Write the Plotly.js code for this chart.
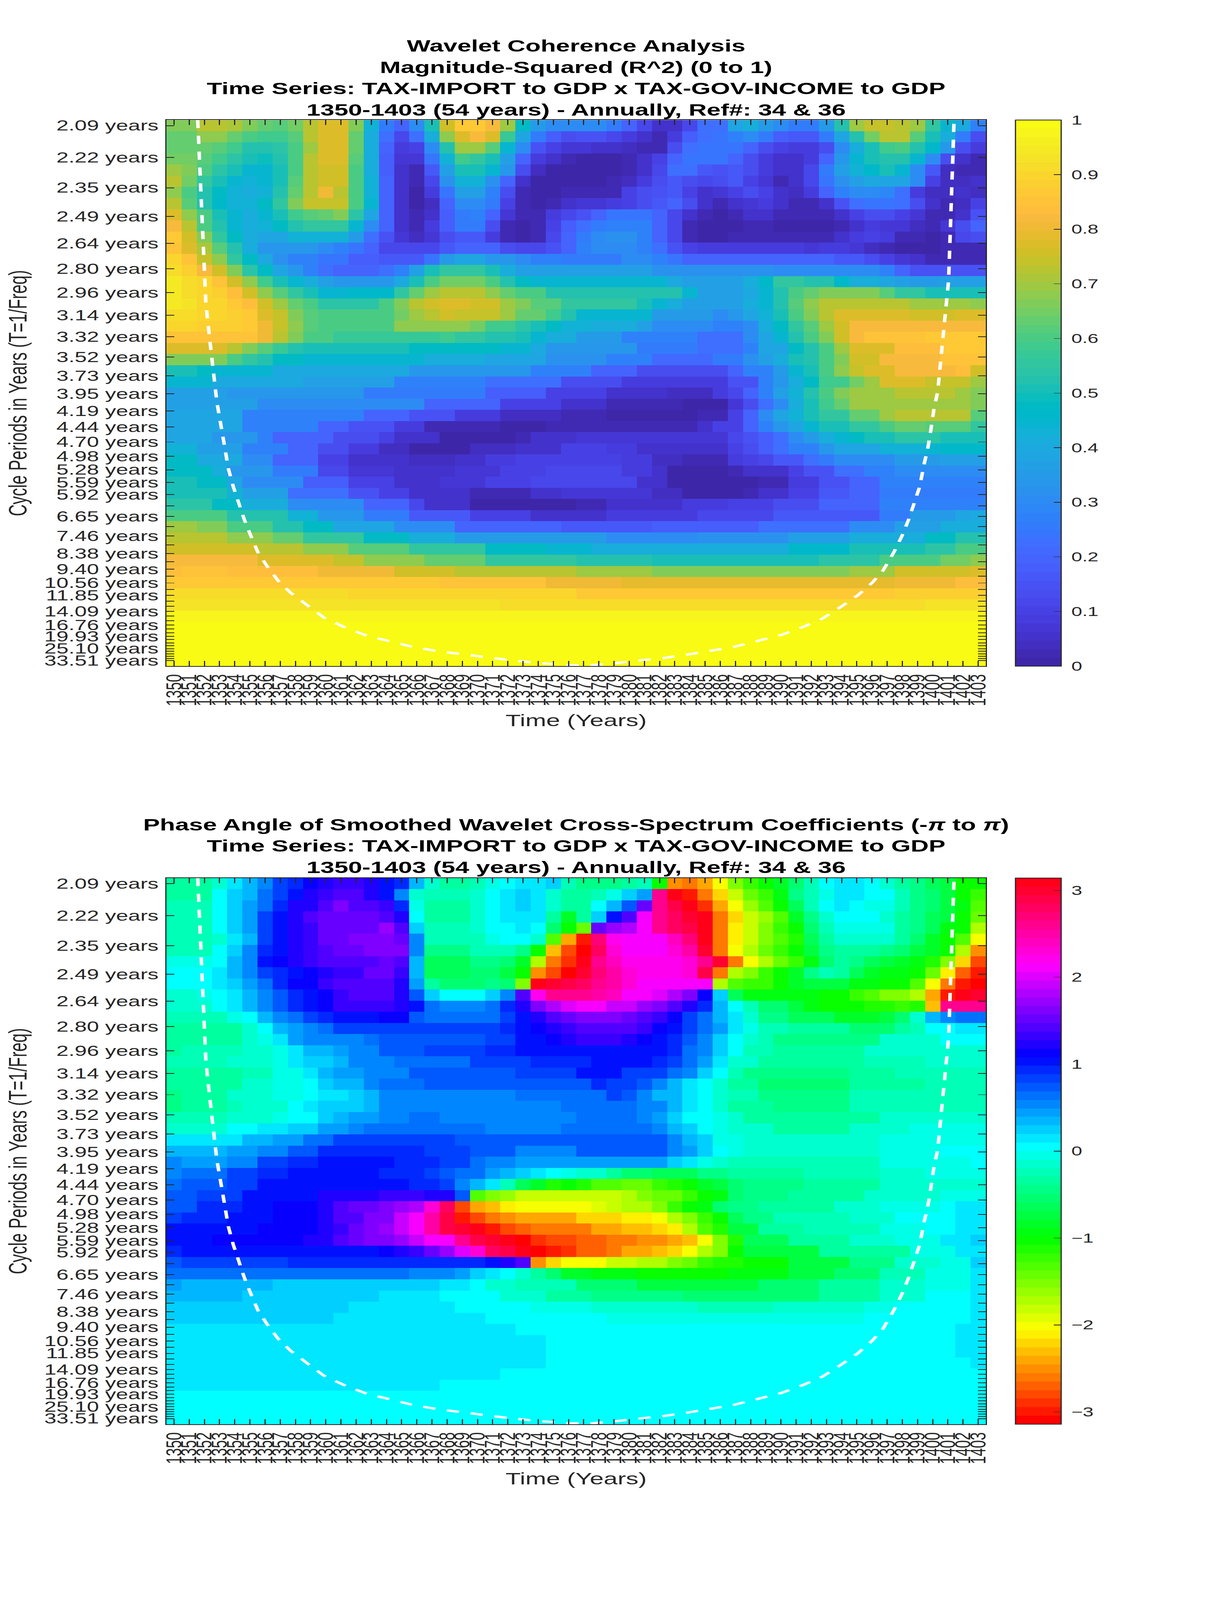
<!DOCTYPE html>
<html><head><meta charset="utf-8">
<script src="https://cdn.plot.ly/plotly-3.0.1.min.js"></script>
<style>html,body{margin:0;padding:0;background:#fff;overflow:hidden}#fit{width:3125px;height:6252px;transform-origin:0 0}#a,#b{width:3125px;height:3126px}</style>
</head><body><div id="fit"><div id="a"></div><div id="b"></div></div>
<script>
const cyclePeriods=[2.095,2.219,2.351,2.491,2.639,2.796,2.962,3.138,3.325,3.523,3.732,3.954,4.189,4.438,4.702,4.982,5.278,5.592,5.924,6.276,6.649,7.045,7.464,7.908,8.378,8.876,9.404,9.963,10.556,11.183,11.848,12.553,13.300,14.090,14.928,15.816,16.756,17.753,18.809,19.927,21.112,22.368,23.698,25.107,26.600,28.182,29.857,31.632,33.512];
const periodLabels=["2.09","2.22","2.35","2.49","2.64","2.80","2.96","3.14","3.32","3.52","3.73","3.95","4.19","4.44","4.70","4.98","5.28","5.59","5.92","","6.65","","7.46","","8.38","","9.40","","10.56","","11.85","","","14.09","","","16.76","","","19.93","","","","25.10","","","","","33.51"];
const coiYear=[1351.56,1351.67,1351.81,1351.96,1352.10,1352.35,1352.57,1352.82,1353.26,1353.58,1353.91,1354.27,1354.63,1355.06,1355.53,1356.15,1356.87,1357.70,1358.78,1359.87,1361.31,1362.76,1364.20,1365.83,1367.46,1369.08,1370.89,1372.33,1374.14,1375.94,1377.39,1378.83,1380.64,1382.27,1383.89,1385.34,1386.78,1388.41,1390.03,1391.48,1392.74,1394.01,1395.09,1396.0,1396.72,1397.44,1397.98,1398.42,1398.78,1399.14,1399.43,1399.68,1399.86,1400.08,1400.33,1400.58,1400.76,1400.91,1401.05,1401.13,1401.23,1401.34,1401.41];
const coiFreq=[.4821,.4513,.3988,.3660,.3284,.2988,.2710,.2464,.2143,.1905,.1751,.1614,.1479,.1342,.1204,.1085,.0965,.0864,.0761,.0658,.0573,.0504,.0461,.0410,.0376,.0350,.0320,.0299,.0277,.0260,.0258,.0273,.0299,.0320,.0350,.0380,.0410,.0461,.0513,.0581,.0650,.0753,.0847,.0948,.1050,.1204,.1342,.1479,.1614,.1751,.1939,.2076,.2211,.2400,.2547,.2875,.3120,.3284,.3481,.3776,.4185,.4513,.4821];
const coherence=[
[.66,.66,.72,.72,.71,.66,.63,.62,.65,.72, .77,.77,.66,.43,.25,.2,.3,.5,.75,.87, .87,.82,.7,.47,.35,.3,.3,.3,.3,.25, .2,.12,.05,.05,.12,.22,.22,.38,.42,.35, .3,.25,.25,.35,.52,.7,.74,.74,.73,.7, .55,.45,.4,.27],
[.63,.63,.68,.68,.63,.6,.58,.58,.62,.72, .78,.78,.64,.42,.22,.12,.22,.42,.68,.77, .82,.78,.57,.38,.25,.18,.14,.15,.15,.12, .08,.06,.03,.08,.18,.22,.24,.27,.3,.26, .18,.16,.16,.25,.38,.53,.65,.72,.72,.62, .5,.42,.25,.13],
[.63,.63,.64,.62,.58,.53,.52,.54,.6,.7, .78,.78,.63,.42,.2,.09,.1,.3,.52,.7, .7,.62,.45,.3,.15,.1,.07,.07,.06,.06, .04,.03,.03,.13,.22,.24,.24,.24,.2,.13, .1,.09,.09,.13,.3,.42,.5,.58,.6,.53, .46,.33,.14,.08],
[.65,.65,.62,.58,.54,.5,.49,.52,.6,.72, .78,.78,.62,.42,.18,.07,.07,.24,.43,.58, .56,.5,.36,.2,.09,.05,.02,.01,.01,.01, .03,.05,.1,.2,.24,.24,.24,.2,.14,.08, .06,.06,.09,.2,.33,.44,.51,.53,.53,.45, .3,.14,.06,.02],
[.7,.66,.6,.54,.5,.44,.44,.5,.6,.72, .76,.76,.6,.42,.18,.05,.03,.17,.36,.5, .5,.44,.33,.13,.04,.01,.01,.01,.01,.01, .03,.06,.12,.22,.23,.17,.15,.17,.14,.08, .05,.06,.12,.25,.36,.43,.46,.5,.44,.3, .17,.04,.02,.02],
[.72,.65,.56,.5,.45,.43,.45,.5,.62,.72, .75,.75,.6,.43,.2,.05,.02,.12,.32,.43, .43,.32,.2,.05,.01,.01,.01,.01,.01,.02, .04,.08,.14,.17,.13,.12,.14,.17,.1,.07, .03,.05,.12,.24,.32,.37,.4,.39,.39,.3, .1,.04,.04,.05],
[.68,.6,.52,.47,.43,.42,.43,.52,.63,.73, .8,.73,.6,.43,.2,.06,.01,.08,.24,.36, .36,.28,.14,.02,.01,.01,.03,.03,.03,.03, .1,.13,.15,.17,.1,.06,.07,.1,.13,.1, .05,.04,.09,.2,.27,.3,.3,.29,.22,.09, .04,.04,.06,.04],
[.72,.62,.53,.46,.43,.43,.48,.55,.66,.74, .74,.74,.6,.45,.2,.06,.0,.04,.2,.3, .31,.25,.1,.03,.0,.03,.05,.07,.07,.08, .1,.13,.17,.2,.13,.05,.03,.05,.07,.09, .06,.03,.03,.05,.15,.22,.24,.24,.22,.14, .06,.03,.04,.1],
[.78,.68,.6,.5,.44,.42,.45,.5,.58,.62, .64,.66,.54,.38,.2,.06,.02,.05,.18,.26, .27,.2,.07,.02,.02,.08,.12,.15,.2,.24, .24,.24,.2,.12,.05,.02,.01,.02,.05,.06, .03,.02,.02,.02,.05,.1,.13,.14,.1,.07, .03,.02,.05,.15],
[.82,.73,.6,.53,.45,.42,.43,.47,.52,.55, .55,.55,.45,.3,.2,.05,.02,.08,.18,.25, .25,.14,.03,.0,.02,.1,.18,.23,.25,.28, .28,.28,.2,.12,.03,.01,.0,.01,.03,.03, .01,.01,.01,.01,.02,.06,.08,.07,.07,.04, .02,.07,.14,.2],
[.86,.76,.66,.55,.47,.42,.38,.38,.43,.43, .43,.43,.35,.23,.15,.07,.04,.07,.14,.16, .16,.09,.03,.01,.02,.12,.2,.25,.3,.32, .32,.27,.2,.12,.03,.01,.01,.02,.03,.03, .02,.02,.02,.03,.05,.09,.1,.09,.03,.02, .01,.03,.11,.13],
[.85,.78,.71,.62,.52,.42,.33,.33,.33,.33, .31,.27,.24,.2,.12,.12,.12,.12,.16,.2, .2,.2,.13,.11,.11,.15,.2,.27,.3,.3, .3,.28,.22,.15,.1,.08,.08,.08,.08,.08, .08,.08,.07,.08,.08,.07,.04,.02,.01,.01, .01,.02,.03,.03],
[.9,.85,.74,.68,.56,.47,.4,.32,.27,.27, .24,.24,.18,.18,.16,.16,.16,.24,.35,.38, .38,.33,.33,.3,.27,.27,.25,.25,.25,.25, .3,.3,.28,.24,.2,.2,.2,.2,.2,.2, .2,.2,.2,.2,.17,.17,.13,.1,.07,.05, .02,.02,.02,.02],
[.92,.88,.82,.75,.67,.54,.48,.38,.33,.27, .22,.2,.2,.2,.23,.28,.36,.5,.55,.55, .55,.5,.42,.36,.36,.36,.36,.36,.36,.36, .36,.36,.32,.32,.32,.32,.32,.32,.32,.32, .3,.3,.3,.3,.3,.3,.3,.27,.2,.15, .15,.15,.15,.15],
[.95,.92,.9,.85,.76,.68,.58,.5,.45,.41, .36,.33,.33,.33,.33,.4,.5,.6,.65,.65, .65,.6,.53,.47,.45,.45,.45,.45,.45,.45, .45,.45,.45,.4,.37,.37,.37,.37,.42,.46, .55,.55,.53,.52,.46,.42,.41,.38,.37,.35, .35,.37,.37,.37],
[.94,.92,.9,.88,.84,.76,.68,.62,.55,.5, .45,.45,.46,.46,.46,.55,.63,.69,.72,.72, .72,.68,.63,.6,.6,.52,.52,.52,.52,.52, .52,.52,.52,.52,.44,.36,.36,.36,.4,.45, .52,.6,.63,.66,.66,.66,.66,.62,.55,.55, .5,.5,.5,.5],
[.94,.93,.9,.9,.86,.83,.76,.7,.63,.6, .54,.54,.54,.54,.6,.66,.72,.76,.78,.78, .75,.75,.7,.66,.62,.62,.56,.56,.56,.56, .56,.5,.45,.42,.37,.37,.37,.37,.42,.45, .53,.62,.68,.73,.73,.73,.73,.73,.73,.7, .7,.7,.7,.68],
[.92,.92,.9,.9,.89,.86,.78,.74,.66,.62, .6,.6,.6,.6,.6,.65,.7,.72,.76,.74, .74,.74,.7,.64,.64,.58,.52,.44,.44,.44, .44,.44,.35,.35,.35,.35,.3,.33,.38,.43, .5,.6,.66,.72,.77,.77,.77,.77,.77,.76, .76,.76,.78,.78],
[.9,.9,.89,.89,.88,.86,.8,.74,.68,.62, .6,.6,.6,.6,.6,.68,.68,.68,.68,.68, .65,.58,.58,.54,.5,.48,.43,.43,.42,.42, .42,.36,.3,.3,.3,.3,.27,.27,.3,.42, .47,.55,.62,.7,.76,.82,.82,.82,.82,.82, .82,.82,.82,.82],
[.85,.85,.85,.85,.85,.85,.8,.72,.66,.6, .6,.57,.57,.57,.57,.57,.57,.57,.58,.56, .56,.53,.53,.5,.45,.42,.42,.35,.35,.35, .28,.28,.28,.28,.28,.22,.22,.22,.3,.38, .45,.52,.6,.67,.75,.82,.85,.85,.85,.85, .86,.86,.86,.86],
[.78,.78,.78,.77,.72,.66,.62,.57,.53,.5, .5,.5,.5,.5,.5,.5,.48,.48,.48,.48, .48,.48,.45,.44,.4,.33,.33,.33,.33,.33, .33,.25,.25,.25,.25,.22,.22,.22,.28,.38, .38,.47,.53,.6,.7,.78,.78,.78,.84,.84, .84,.86,.86,.86],
[.66,.66,.66,.66,.6,.55,.52,.48,.48,.44, .44,.44,.44,.44,.44,.44,.44,.42,.42,.42, .42,.38,.38,.38,.38,.32,.32,.32,.32,.27, .27,.27,.21,.21,.21,.21,.25,.25,.32,.36, .42,.5,.53,.6,.66,.76,.76,.82,.82,.82, .82,.85,.85,.85],
[.5,.5,.47,.44,.44,.44,.44,.4,.4,.4, .4,.4,.4,.4,.4,.4,.33,.33,.33,.33, .33,.33,.33,.33,.28,.28,.28,.28,.19,.19, .19,.13,.13,.13,.13,.14,.14,.2,.28,.28, .35,.45,.5,.6,.68,.74,.78,.78,.82,.82, .82,.82,.84,.75],
[.44,.44,.44,.4,.4,.4,.4,.4,.4,.36, .36,.36,.36,.36,.36,.28,.28,.28,.28,.28, .28,.22,.22,.22,.22,.22,.14,.14,.14,.14, .08,.08,.08,.08,.08,.08,.08,.15,.15,.27, .33,.42,.47,.58,.58,.65,.7,.77,.77,.77, .74,.74,.74,.7],
[.37,.37,.37,.37,.33,.33,.33,.33,.33,.33, .33,.33,.33,.26,.26,.26,.26,.26,.26,.26, .26,.18,.18,.18,.18,.1,.1,.1,.1,.05, .05,.05,.05,.04,.04,.04,.08,.12,.2,.27, .36,.43,.52,.6,.66,.7,.7,.7,.72,.72, .72,.72,.7,.66],
[.36,.36,.36,.36,.36,.36,.3,.3,.3,.3, .3,.3,.3,.3,.3,.3,.3,.2,.2,.2, .2,.2,.1,.1,.1,.1,.05,.05,.05,.02, .02,.02,.02,.02,.01,.01,.01,.07,.13,.22, .3,.42,.5,.58,.63,.69,.69,.69,.69,.69, .69,.69,.69,.66],
[.38,.38,.38,.38,.38,.28,.28,.28,.28,.28, .28,.28,.28,.2,.2,.2,.15,.15,.15,.08, .08,.08,.04,.04,.04,.04,.02,.02,.02,.01, .01,.01,.01,.01,.01,.03,.03,.1,.2,.3, .38,.43,.5,.55,.55,.63,.63,.7,.72,.72, .72,.72,.72,.62],
[.38,.38,.38,.38,.38,.27,.27,.27,.27,.27, .2,.2,.15,.15,.15,.09,.09,.03,.03,.03, .03,.03,.0,.0,.0,.03,.03,.03,.03,.03, .03,.03,.03,.03,.03,.05,.1,.1,.2,.27, .33,.38,.45,.5,.5,.55,.55,.6,.63,.63, .62,.62,.62,.56],
[.38,.38,.38,.33,.33,.33,.27,.2,.2,.2, .2,.13,.13,.13,.1,.05,.05,.05,.01,.01, .01,.01,.01,.03,.05,.05,.05,.07,.07,.07, .07,.07,.07,.07,.07,.07,.07,.12,.15,.18, .22,.3,.35,.42,.45,.48,.5,.5,.54,.54, .54,.5,.5,.5],
[.43,.43,.37,.37,.37,.28,.28,.28,.2,.2, .13,.13,.08,.08,.04,.04,.01,.01,.01,.01, .04,.04,.04,.06,.06,.06,.1,.1,.1,.08, .08,.05,.05,.06,.06,.06,.06,.1,.13,.18, .22,.28,.28,.33,.38,.38,.38,.43,.43,.43, .44,.46,.46,.46],
[.47,.47,.4,.4,.4,.3,.3,.2,.2,.2, .1,.1,.05,.05,.05,.05,.04,.04,.04,.06, .06,.08,.08,.1,.1,.1,.1,.1,.1,.1, .08,.08,.04,.04,.03,.03,.03,.08,.1,.12, .17,.17,.22,.25,.3,.3,.3,.3,.35,.35, .35,.37,.37,.37],
[.47,.47,.47,.42,.33,.33,.33,.25,.25,.25, .12,.12,.07,.07,.07,.05,.05,.05,.05,.07, .07,.07,.1,.1,.1,.12,.12,.12,.12,.12, .08,.08,.05,.01,.01,.01,.01,.03,.05,.05, .05,.1,.15,.15,.22,.22,.28,.28,.3,.3, .3,.3,.3,.3],
[.5,.5,.47,.47,.38,.3,.3,.3,.3,.18, .18,.18,.1,.1,.1,.06,.06,.06,.07,.07, .07,.1,.1,.1,.11,.11,.11,.11,.11,.11, .11,.05,.05,.0,.0,.0,.0,.0,.01,.03, .03,.08,.08,.15,.15,.2,.2,.27,.27,.27, .27,.27,.27,.27],
[.5,.5,.5,.5,.43,.36,.36,.36,.22,.22, .22,.22,.15,.15,.1,.1,.05,.05,.05,.05, .03,.03,.03,.03,.05,.05,.07,.07,.07,.07, .07,.07,.04,.04,.01,.01,.01,.01,.03,.05, .05,.1,.1,.16,.16,.2,.2,.26,.26,.26, .26,.26,.26,.26],
[.54,.54,.54,.47,.47,.42,.42,.42,.3,.3, .3,.3,.3,.2,.2,.2,.12,.05,.05,.05, .01,.01,.01,.01,.01,.01,.01,.03,.03,.05, .05,.05,.05,.05,.08,.08,.08,.1,.1,.1, .13,.13,.13,.2,.2,.2,.2,.28,.28,.28, .28,.28,.28,.28],
[.6,.6,.6,.6,.53,.53,.53,.53,.43,.43, .33,.33,.33,.25,.25,.25,.17,.17,.17,.17, .1,.1,.1,.1,.05,.05,.05,.05,.05,.08, .08,.08,.08,.08,.08,.12,.12,.12,.12,.12, .17,.17,.17,.17,.17,.17,.17,.25,.25,.35, .35,.35,.38,.4],
[.7,.7,.66,.66,.6,.6,.6,.53,.53,.48, .48,.38,.38,.38,.38,.3,.3,.3,.3,.2, .2,.2,.2,.2,.2,.2,.17,.17,.17,.17, .17,.17,.18,.18,.18,.18,.18,.18,.18,.22, .22,.22,.22,.22,.22,.3,.3,.3,.36,.36, .36,.42,.42,.42],
[.73,.73,.73,.73,.68,.68,.68,.64,.64,.55, .55,.55,.55,.47,.47,.47,.42,.42,.42,.35, .35,.35,.35,.35,.35,.35,.35,.35,.35,.3, .3,.3,.3,.3,.3,.32,.32,.32,.32,.32, .32,.36,.36,.36,.36,.42,.42,.42,.42,.42, .47,.47,.52,.52],
[.76,.76,.76,.76,.76,.76,.72,.72,.72,.68, .68,.68,.62,.62,.62,.62,.55,.55,.55,.55, .55,.48,.48,.48,.48,.44,.44,.44,.41,.41, .41,.41,.41,.41,.41,.41,.42,.42,.42,.42, .42,.46,.46,.46,.46,.5,.5,.5,.5,.5, .54,.54,.6,.6],
[.82,.82,.82,.82,.82,.82,.78,.78,.78,.78, .78,.74,.74,.68,.68,.68,.68,.64,.64,.64, .64,.56,.56,.56,.56,.56,.56,.52,.52,.52, .52,.52,.51,.51,.51,.51,.51,.51,.51,.51, .51,.51,.51,.54,.54,.54,.54,.6,.6,.6, .6,.65,.65,.68],
[.83,.85,.85,.85,.83,.83,.83,.83,.83,.83, .8,.8,.8,.8,.8,.76,.76,.76,.76,.73, .73,.73,.73,.73,.73,.73,.73,.7,.7,.7, .7,.7,.66,.66,.66,.66,.66,.66,.66,.66, .66,.66,.66,.66,.66,.7,.7,.7,.75,.75, .75,.76,.76,.78],
[.87,.87,.87,.87,.87,.87,.87,.87,.87,.87, .87,.87,.87,.87,.87,.87,.87,.87,.845,.845, .845,.845,.845,.845,.845,.81,.81,.81,.81,.81, .79,.79,.79,.79,.79,.79,.79,.79,.79,.79, .79,.79,.79,.79,.79,.79,.79,.79,.81,.81, .81,.81,.84,.84],
[.91,.91,.91,.91,.91,.91,.91,.91,.91,.91, .91,.91,.895,.895,.895,.895,.895,.895,.895,.895, .895,.895,.895,.895,.895,.895,.895,.87,.87,.87, .87,.87,.87,.87,.87,.87,.87,.87,.87,.87, .87,.87,.87,.87,.87,.87,.87,.87,.88,.88, .88,.88,.88,.88],
[.935,.935,.935,.935,.935,.935,.935,.935,.935,.935, .935,.935,.935,.935,.935,.935,.935,.935,.935,.935, .935,.935,.92,.92,.92,.92,.92,.92,.92,.92, .92,.92,.92,.92,.92,.92,.92,.92,.92,.92, .92,.92,.92,.92,.92,.92,.92,.92,.92,.92, .935,.935,.935,.935],
[.975,.975,.975,.975,.975,.975,.975,.975,.975,.975, .975,.975,.975,.975,.975,.975,.975,.975,.975,.975, .975,.975,.975,.975,.975,.975,.975,.975,.975,.975, .975,.975,.975,.975,.975,.975,.975,.975,.975,.975, .975,.975,.975,.975,.975,.975,.975,.975,.975,.975, .975,.975,.975,.975],
[.99,.99,.99,.99,.99,.99,.99,.99,.99,.99, .99,.99,.99,.99,.99,.99,.99,.99,.99,.99, .99,.99,.99,.99,.99,.99,.99,.99,.99,.99, .99,.99,.99,.99,.99,.99,.99,.99,.99,.99, .99,.99,.99,.99,.99,.99,.99,.99,.99,.99, .99,.99,.99,.99],
[1,1,1,1,1,1,1,1,1,1, 1,1,1,1,1,1,1,1,1,1, 1,1,1,1,1,1,1,1,1,1, 1,1,1,1,1,1,1,1,1,1, 1,1,1,1,1,1,1,1,1,1, 1,1,1,1],
[1,1,1,1,1,1,1,1,1,1, 1,1,1,1,1,1,1,1,1,1, 1,1,1,1,1,1,1,1,1,1, 1,1,1,1,1,1,1,1,1,1, 1,1,1,1,1,1,1,1,1,1, 1,1,1,1],
[1,1,1,1,1,1,1,1,1,1, 1,1,1,1,1,1,1,1,1,1, 1,1,1,1,1,1,1,1,1,1, 1,1,1,1,1,1,1,1,1,1, 1,1,1,1,1,1,1,1,1,1, 1,1,1,1]
];
const phaseAngle=[
[-.35,-.35,-.35,-.15,.14,.35,.55,.8,.98,1.1, 1.2,1.3,1.35,1.25,1.05,.9,.3,-.15,-.3,-.3, -.2,-.05,.08,.1,.12,.2,-.2,-.4,-.4,-.4, -.3,-.2,-1.05,-2.5,-2.6,-2.4,-2.0,-1.5,-1.25,-1.05, -.8,-.5,-.25,.05,.12,.12,.05,-.1,-.3,-.45, -.65,-.7,-1.0,-1.0],
[-.3,-.3,-.3,.05,.2,.35,.65,.85,1.05,1.25, 1.35,1.42,1.42,1.25,1.05,.55,-.12,-.2,-.2,-.2, -.12,.05,.12,.2,.15,-.1,-.3,-.3,-.25,-.05, .2,.4,2.6,3.1,-2.95,-2.65,-2.25,-1.85,-1.45,-1.2, -.9,-.45,-.2,-.05,.1,.1,.05,.02,-.2,-.4, -.55,-.7,-1,-1.2],
[-.25,-.25,-.25,.02,.25,.42,.68,.9,1.2,1.25, 1.4,1.6,1.45,1.42,1.3,.9,-.05,-.3,-.3,-.3, -.1,.02,.12,.22,.12,-.1,-.35,-.3,.02,.3, .7,1.5,2.6,2.85,3.05,-2.9,-2.45,-2.0,-1.65,-1.35, -1.05,-.6,-.2,.05,.15,.05,-.03,-.05,-.25,-.4, -.5,-.75,-.95,-1.3],
[-.25,-.25,-.25,.02,.25,.4,.85,1.05,1.2,1.4, 1.55,1.55,1.55,1.55,1.4,1.2,.02,-.3,-.3,-.3, -.12,.05,.12,.12,.1,-.35,-.8,-.3,.25,1.0, 1.45,2.1,2.6,2.75,3.0,3.14,-2.65,-2.2,-1.8,-1.6, -1.3,-.85,-.4,-.1,.05,.05,.05,-.1,-.3,-.45, -.6,-.75,-1.05,-1.45],
[-.25,-.25,-.25,.02,.25,.42,.85,1.05,1.2,1.35, 1.5,1.5,1.5,1.5,1.7,1.45,.2,-.25,-.25,-.25, -.1,.03,.03,.15,.03,-.5,-1.05,-1.4,1.55,1.7, 1.85,2.1,2.6,2.8,2.9,3.1,-2.6,-2.1,-1.8,-1.55, -1.25,-1.0,-.5,-.2,-.05,-.05,-.05,-.05,-.3,-.45, -.65,-.95,-1.05,-1.75],
[-.25,-.25,-.25,-.1,.1,.35,.85,1.05,1.2,1.35, 1.5,1.5,1.6,1.6,1.6,1.55,.5,-.25,-.25,-.25, -.2,-.05,.03,.03,-.12,-1.3,-2.4,-3.0,2.7,2.25, 2.15,2.15,2.15,2.45,2.7,3.05,-2.6,-2.1,-1.8,-1.5, -1.35,-1.1,-.65,-.3,-.1,-.1,-.1,-.1,-.3,-.5, -.8,-1.05,-1.3,-2.05],
[-.25,-.25,-.25,.02,.2,.5,.95,1.05,1.2,1.35, 1.45,1.5,1.5,1.6,1.6,1.6,.55,-.4,-.4,-.4, -.25,-.25,-.25,-.4,-1.05,-2.35,-2.75,-3.1,2.75,2.3, 2.1,2.1,2.1,2.35,2.5,3.0,-2.6,-2.0,-1.7,-1.45, -1.2,-1.0,-.75,-.4,-.3,-.3,-.3,-.4,-.5,-.7, -.85,-1.05,-1.7,-2.5],
[-.05,-.05,-.05,.05,.3,.55,1.0,1.15,1.25,1.3, 1.4,1.45,1.45,1.45,1.5,1.4,.35,-.6,-.6,-.6, -.45,-.45,-.55,-.85,-1.75,-2.6,-2.85,3.1,2.65,2.4, 2.2,2.2,2.2,2.2,2.35,2.65,3.0,-2.65,-2.05,-1.75, -1.4,-1.2,-.9,-.5,-.3,-.45,-.6,-.7,-.85,-.9, -1.1,-1.55,-2.25,-2.75],
[.05,.05,.05,.1,.35,.55,.8,.95,1.05,1.15, 1.25,1.35,1.35,1.5,1.5,1.3,.3,-.65,-.65,-.65, -.5,-.5,-.7,-1.05,-2.55,-2.8,-3.1,2.95,2.7,2.55, 2.35,2.2,2.2,2.2,2.35,2.85,-2.6,-1.75,-1.5,-1.25, -1.05,-.85,-.45,-.2,-.3,-.65,-.8,-.9,-.95,-1.0, -1.4,-2.1,-2.7,-3.0],
[.05,.05,.05,.12,.25,.45,.65,.95,1.1,1.15, 1.3,1.4,1.4,1.4,1.4,1.2,.45,-.3,-.5,-.5, -.5,-.4,-.5,-1.5,3.14,2.95,2.85,2.75,2.65,2.55, 2.3,2.1,2.1,2.1,2.1,2.1,-1.75,-1.3,-1.25,-1.25, -1.05,-.85,-.75,-.75,-.75,-.9,-.9,-1.05,-1.05,-1.3, -2.0,-2.65,-2.95,-3.1],
[-.1,-.1,-.05,.05,.1,.35,.5,.7,.9,1.05, 1.15,1.3,1.45,1.45,1.45,1.25,.7,.2,.05,.05, .05,.2,.5,1.45,2.2,2.65,2.65,2.6,2.5,2.4, 2.15,2.15,2.05,1.85,1.65,1.1,.2,-.6,-.9,-.9, -.9,-.9,-.9,-1.05,-1.05,-1.2,-1.3,-1.5,-1.55,-1.75, -2.45,-3.0,3.1,3.0],
[-.15,-.15,-.15,.05,.15,.35,.5,.7,.9,1.05, 1.15,1.3,1.3,1.3,1.3,1.2,1.05,.6,.5,.5, .5,.6,.9,1.2,1.6,1.8,2.0,2.15,2.15,1.95, 1.95,1.75,1.65,1.45,1.2,.9,.3,.05,-.25,-.5, -.5,-.75,-.9,-1.05,-1.05,-1.05,-1.1,-1.1,-1.2,-1.15, -2.3,2.65,2.65,2.65],
[-.2,-.2,-.2,-.2,-.05,.05,.3,.55,.65,.85, .95,1.05,1.05,1.05,1.1,1.1,.75,.65,.65,.65, .65,.65,.85,1.05,1.25,1.4,1.55,1.65,1.65,1.65, 1.55,1.45,1.3,1.1,.85,.65,.35,.1,-.1,-.4, -.4,-.65,-.65,-.65,-.8,-.8,-.8,-.7,-.5,-.1, .35,.55,.65,.65],
[-.3,-.3,-.3,-.3,-.3,-.1,.05,.3,.45,.55, .65,.8,.85,.85,.85,.85,.85,.85,.85,.85, .85,.85,.95,1.05,1.1,1.2,1.35,1.45,1.45,1.45, 1.45,1.3,1.1,1.05,.85,.65,.4,.15,-.05,-.2, -.2,-.35,-.35,-.35,-.35,-.5,-.5,-.5,-.3,-.2, .05,.05,.15,.15],
[-.3,-.3,-.3,-.3,-.3,-.12,-.03,.1,.4,.5, .5,.5,.5,.65,.75,.75,.75,.75,.75,.75, .75,.85,.85,1.05,1.0,1.15,1.25,1.3,1.3,1.3, 1.2,1.15,1.05,.9,.75,.55,.25,.05,-.1,-.2, -.4,-.4,-.4,-.4,-.4,-.4,-.4,-.15,-.15,-.15, -.15,.05,.05,.05],
[-.35,-.2,-.2,-.2,-.2,-.15,-.15,-.03,.12,.3, .3,.45,.55,.55,.7,.7,.7,.8,.8,.8, .8,.9,.9,1.0,1.05,1.05,1.05,1.05,1.05,1.05, 1.05,1.05,1.0,.9,.65,.55,.25,.05,-.2,-.2, -.3,-.3,-.3,-.3,-.3,-.3,-.15,-.15,-.15,-.15, -.1,-.1,-.1,-.1],
[-.25,-.25,-.25,-.25,-.12,-.12,-.12,-.02,.1,.22, .22,.3,.5,.5,.55,.65,.65,.65,.65,.65, .8,.8,.8,.8,.9,.95,.95,.95,1.05,1.05, 1.05,1.05,.9,.8,.65,.4,.12,-.1,-.15,-.35, -.35,-.35,-.35,-.35,-.35,-.35,-.2,-.2,-.2,-.2, -.12,-.12,-.12,-.12],
[-.3,-.3,-.3,-.3,-.3,-.2,-.2,-.03,-.03,.1, .3,.4,.4,.55,.55,.55,.7,.7,.7,.7, .7,.7,.7,.85,.85,.85,.85,1.0,1.0,1.0, .85,.85,.85,.6,.5,.25,.05,-.2,-.4,-.4, -.4,-.4,-.4,-.4,-.4,-.35,-.35,-.35,-.2,-.2, -.2,-.2,-.2,-.2],
[-.3,-.3,-.3,-.3,-.3,-.15,-.1,-.02,-.02,.05, .2,.35,.35,.5,.6,.6,.6,.7,.7,.7, .7,.7,.7,.7,.7,.75,.75,.75,.95,.85, .85,.7,.55,.35,.15,.05,-.12,-.35,-.35,-.5, -.5,-.5,-.5,-.5,-.5,-.35,-.35,-.35,-.35,-.35, -.2,-.2,-.2,-.2],
[-.4,-.3,-.3,-.3,-.15,-.15,-.15,-.05,-.05,.08, .15,.15,.2,.35,.5,.5,.5,.5,.5,.5, .5,.5,.5,.65,.65,.65,.65,.65,.65,.85, .7,.5,.35,.35,.1,.05,-.1,-.25,-.25,-.45, -.45,-.45,-.45,-.45,-.45,-.25,-.25,-.25,-.25,-.25, -.2,-.2,-.2,-.2],
[-.4,-.3,-.3,-.3,-.2,-.1,-.1,-.1,.05,.12, .2,.2,.2,.3,.5,.5,.5,.5,.5,.5, .5,.5,.5,.5,.5,.5,.6,.6,.6,.6, .6,.5,.5,.3,.15,.05,-.1,-.35,-.35,-.35, -.4,-.4,-.4,-.4,-.4,-.25,-.25,-.25,-.25,-.25, -.2,-.2,-.2,-.2],
[-.25,-.25,-.25,-.25,-.15,-.15,-.15,-.05,.05,.05, .22,.35,.42,.42,.5,.5,.6,.6,.55,.55, .55,.55,.55,.55,.55,.55,.55,.6,.6,.6, .6,.55,.45,.25,.05,.05,-.08,-.15,-.3,-.3, -.3,-.3,-.3,-.3,-.3,-.3,-.3,-.15,-.15,-.15, -.15,-.15,-.15,-.15],
[-.1,-.1,-.1,-.1,.05,.05,.1,.1,.25,.25, .4,.4,.5,.65,.65,.65,.65,.65,.65,.65, .65,.55,.55,.55,.55,.55,.6,.6,.6,.6, .6,.6,.5,.35,.2,.05,-.05,-.12,-.12,-.12, -.3,-.3,-.3,-.3,-.3,-.15,-.15,-.15,-.15,-.05, -.05,-.05,-.05,-.05],
[.15,.15,.15,.15,.15,.3,.3,.45,.45,.6, .6,.8,.8,.8,.8,.8,.8,.8,.8,.7, .7,.7,.7,.7,.7,.7,.7,.7,.7,.7, .7,.7,.7,.55,.3,.2,-.02,-.05,-.12,-.12, -.12,-.12,-.12,-.12,-.12,-.12,-.12,-.08,-.08,-.08, -.08,-.03,-.03,-.03],
[.3,.3,.3,.3,.4,.4,.55,.55,.75,.75, .95,.95,.95,.95,.95,.95,.95,.85,.85,.85, .75,.75,.75,.55,.55,.55,.55,.7,.7,.7, .7,.7,.7,.55,.4,.2,.05,-.05,-.12,-.12, -.12,-.12,-.12,-.12,-.12,-.12,-.12,-.05,-.05,-.05, -.05,.05,.05,.05],
[.55,.45,.45,.45,.55,.55,.8,.8,.9,.9, 1.02,1.02,1.02,1.02,1.02,.92,.92,.92,.8,.8, .62,.55,.5,.4,.4,.4,.4,.4,.4,.4, .4,.4,.4,.2,.12,-.05,-.12,-.2,-.2,-.2, -.2,-.2,-.2,-.2,-.2,-.2,-.2,-.08,-.08,-.08, -.08,-.08,-.08,.05],
[.5,.6,.6,.6,.8,.8,.95,.95,1.0,1.0, 1.0,1.0,1.05,1.05,.95,.95,.95,.85,.75,.6, .6,.45,.38,.25,.15,.05,-.05,-.15,-.15,-.3, -.55,-.55,-.6,-.6,-.6,-.45,-.45,-.35,-.35,-.3, -.3,-.3,-.2,-.2,-.2,-.2,-.2,-.15,-.15,-.15, -.05,-.05,-.05,-.05],
[.62,.7,.7,.7,.85,.85,1.0,1.0,1.05,1.05, 1.05,1.05,1.05,1.05,1.05,1.05,.95,.9,.85,.5, .3,.12,-.25,-.6,-.85,-1.1,-1.05,-1.1,-1.3,-1.3, -1.4,-1.4,-1.2,-1.1,-1.05,-.85,-.7,-.55,-.4,-.4, -.4,-.4,-.3,-.3,-.3,-.3,-.3,-.1,-.1,-.1, -.1,-.1,-.1,-.1],
[.7,.7,.85,.85,.85,1.0,1.0,1.05,1.05,1.05, 1.25,1.25,1.25,1.25,1.3,1.3,1.3,1.2,1.2,.7, -1.3,-1.5,-1.65,-1.8,-1.85,-1.85,-1.85,-1.85,-1.85,-1.85, -1.7,-1.55,-1.4,-1.4,-1.2,-1.0,-.9,-.55,-.4,-.4, -.4,-.3,-.3,-.3,-.3,-.3,-.1,-.1,-.1,-.1, -.1,-.05,-.05,-.05],
[.75,.75,.95,.95,.95,1.05,1.05,1.15,1.15,1.15, 1.25,1.4,1.55,1.55,1.6,1.75,1.85,2.35,2.75,-2.75, -2.45,-2.3,-2.15,-2.05,-2.05,-2.05,-2.0,-2.0,-1.9,-1.85, -1.75,-1.75,-1.5,-1.2,-1.05,-.9,-.55,-.4,-.4,-.3, -.3,-.3,-.3,-.3,-.15,-.15,-.15,-.05,-.05,-.05, -.05,.05,.15,.15],
[.85,.98,.98,.98,1.05,1.05,1.05,1.15,1.15,1.15, 1.25,1.4,1.4,1.65,1.65,1.9,2.15,2.5,2.9,-3.0, -2.8,-2.65,-2.55,-2.4,-2.4,-2.4,-2.4,-2.25,-2.25,-2.25, -2.15,-2.15,-2.0,-1.75,-1.5,-1.25,-1.0,-.6,-.4,-.4, -.25,-.25,-.25,-.25,-.25,-.12,-.12,-.12,.05,.05, .05,.05,.15,.15],
[1.02,1.02,1.02,1.05,1.05,1.05,1.1,1.1,1.15,1.15, 1.25,1.35,1.5,1.6,1.7,1.9,2.15,2.55,2.85,3.0, 3.14,-2.95,-2.75,-2.7,-2.6,-2.6,-2.6,-2.6,-2.45,-2.45, -2.3,-2.3,-2.2,-2.1,-1.75,-1.3,-1.1,-.7,-.7,-.35, -.35,-.35,-.2,-.2,-.2,-.2,-.2,-.05,-.05,-.05, .05,.05,.12,.12],
[1.05,1.05,1.05,1.1,1.1,1.1,1.15,1.15,1.15,1.25, 1.25,1.4,1.55,1.6,1.65,1.75,1.95,2.15,2.15,2.65, 2.85,3.0,3.14,-3.05,-2.9,-2.8,-2.8,-2.7,-2.7,-2.6, -2.6,-2.5,-2.5,-2.4,-2.3,-2.0,-1.5,-1.1,-.6,-.6, -.6,-.3,-.3,-.3,-.3,-.15,-.15,-.15,-.05,-.05, -.05,.12,.18,.22],
[.95,1.02,1.02,1.02,1.0,1.0,1.0,1.0,1.0,1.02, 1.02,1.02,1.05,1.05,1.15,1.25,1.35,1.5,1.75,2.0, 2.3,2.75,2.9,3.1,-3.1,-2.95,-2.85,-2.7,-2.7,-2.6, -2.45,-2.45,-2.35,-2.25,-2.05,-1.75,-1.5,-1.05,-.7,-.7, -.7,-.7,-.7,-.3,-.3,-.3,-.3,-.3,-.3,-.05, -.05,-.05,.12,.18],
[.7,.8,.8,.8,.8,.8,.8,.8,.9,.9, .9,.9,.9,.9,.9,.9,.98,.98,.98,.98, .98,1.05,1.2,1.45,-2.55,-2.25,-2.05,-2.0,-2.0,-1.85, -1.85,-1.7,-1.7,-1.55,-1.4,-1.25,-1.15,-1.15,-1.0,-1.0, -1.0,-.75,-.75,-.75,-.75,-.4,-.4,-.4,-.15,-.15, -.15,-.03,-.03,.2],
[.6,.6,.6,.6,.6,.6,.6,.6,.6,.6, .6,.6,.6,.6,.6,.6,.55,.55,.55,.4, .25,.12,.05,-.15,-.35,-.55,-.8,-.8,-.95,-.95, -.95,-1.0,-1.0,-1.0,-1.0,-1.0,-1.0,-.9,-.9,-.9, -.9,-.7,-.7,-.7,-.5,-.5,-.5,-.25,-.25,-.25, -.03,-.03,-.03,.1],
[.4,.32,.32,.32,.32,.32,.32,.28,.28,.28, .28,.28,.28,.28,.2,.2,.2,.2,.1,.1, .05,-.1,-.1,-.25,-.25,-.25,-.25,-.55,-.55,-.55, -.55,-.75,-.75,-.75,-.75,-.75,-.75,-.75,-.75,-.55, -.55,-.55,-.55,-.35,-.35,-.35,-.35,-.18,-.18,-.18, -.03,-.03,-.03,.15],
[.3,.3,.3,.3,.3,.25,.25,.25,.25,.25, .25,.25,.25,.25,.15,.15,.15,.15,.05,.05, .05,.05,-.12,-.12,-.12,-.3,-.3,-.3,-.4,-.4, -.4,-.4,-.4,-.4,-.55,-.55,-.55,-.55,-.55,-.55, -.55,-.55,-.55,-.35,-.35,-.35,-.35,-.15,-.15,-.15, .05,.05,.05,.15],
[.25,.25,.25,.25,.25,.25,.25,.25,.25,.25, .25,.25,.15,.15,.15,.15,.15,.15,.15,.05, .05,.05,.05,.05,-.05,-.05,-.05,-.05,-.15,-.15, -.15,-.15,-.15,-.15,-.15,-.25,-.25,-.25,-.25,-.25, -.15,-.15,-.15,-.15,-.15,-.15,-.05,-.05,.05,.05, .05,.05,.05,.15],
[.25,.25,.25,.25,.25,.25,.25,.25,.25,.25, .25,.15,.15,.15,.15,.15,.15,.15,.15,.15, .15,.05,.05,.05,.05,.05,.05,.05,.05,-.05, -.05,-.05,-.05,-.05,-.05,-.05,-.05,-.05,-.05,-.05, -.05,-.05,-.05,-.05,-.05,-.05,.05,.05,.05,.05, .05,.05,.05,.15],
[.15,.15,.15,.15,.15,.15,.15,.15,.15,.15, .15,.15,.15,.15,.15,.15,.15,.15,.15,.15, .15,.15,.15,.05,.05,.05,.05,.05,.05,.05, .05,.05,.05,.05,.05,.05,.05,.05,.05,.05, .05,.05,.05,.05,.05,.05,.05,.05,.05,.05, .05,.05,.15,.15],
[.15,.15,.15,.15,.15,.15,.15,.15,.15,.15, .15,.15,.15,.15,.15,.15,.15,.15,.15,.15, .15,.15,.15,.15,.15,.05,.05,.05,.05,.05, .05,.05,.05,.05,.05,.05,.05,.05,.05,.05, .05,.05,.05,.05,.05,.05,.05,.05,.05,.05, .05,.05,.15,.15],
[.15,.15,.15,.15,.15,.15,.15,.15,.15,.15, .15,.15,.15,.15,.15,.15,.15,.15,.15,.15, .15,.15,.15,.15,.15,.05,.05,.05,.05,.05, .05,.05,.05,.05,.05,.05,.05,.05,.05,.05, .05,.05,.05,.05,.05,.05,.05,.05,.05,.05, .05,.05,.15,.15],
[.15,.15,.15,.15,.15,.15,.15,.15,.15,.15, .15,.15,.15,.15,.15,.15,.15,.15,.15,.15, .15,.15,.15,.15,.15,.05,.05,.05,.05,.05, .05,.05,.05,.05,.05,.05,.05,.05,.05,.05, .05,.05,.05,.05,.05,.05,.05,.05,.05,.05, .05,.05,.05,.15],
[.15,.15,.15,.15,.15,.15,.15,.15,.15,.15, .15,.15,.15,.15,.15,.15,.15,.15,.15,.15, .15,.15,.05,.05,.05,.05,.05,.05,.05,.05, .05,.05,.05,.05,.05,.05,.05,.05,.05,.05, .05,.05,.05,.05,.05,.05,.05,.05,.05,.05, .05,.05,.05,.05],
[.15,.15,.15,.15,.15,.15,.15,.15,.15,.15, .15,.15,.15,.15,.15,.15,.15,.15,.05,.05, .05,.05,.05,.05,.05,.05,.05,.05,.05,.05, .05,.05,.05,.05,.05,.05,.05,.05,.05,.05, .05,.05,.05,.05,.05,.05,.05,.05,.05,.05, .05,.05,.05,.05],
[.05,.05,.05,.05,.05,.05,.05,.05,.05,.05, .05,.05,.05,.05,.05,.05,.05,.05,.05,.05, .05,.05,.05,.05,.05,.05,.05,.05,.05,.05, .05,.05,.05,.05,.05,.05,.05,.05,.05,.05, .05,.05,.05,.05,.05,.05,.05,.05,.05,.05, .05,.05,.05,.05],
[.05,.05,.05,.05,.05,.05,.05,.05,.05,.05, .05,.05,.05,.05,.05,.05,.05,.05,.05,.05, .05,.05,.05,.05,.05,.05,.05,.05,.05,.05, .05,.05,.05,.05,.05,.05,.05,.05,.05,.05, .05,.05,.05,.05,.05,.05,.05,.05,.05,.05, .05,.05,.05,.05],
[.05,.05,.05,.05,.05,.05,.05,.05,.05,.05, .05,.05,.05,.05,.05,.05,.05,.05,.05,.05, .05,.05,.05,.05,.05,.05,.05,.05,.05,.05, .05,.05,.05,.05,.05,.05,.05,.05,.05,.05, .05,.05,.05,.05,.05,.05,.05,.05,.05,.05, .05,.05,.05,.05]
];
const parulaMap=[[.2422,.1504,.6603],[.2504,.165,.7076],[.2578,.1818,.7511],[.2647,.1978,.7952],[.2706,.2147,.8364],[.2751,.2342,.871],[.2783,.2559,.8991],[.2803,.2782,.9221],[.2813,.3006,.9414],[.281,.3228,.9579],[.2795,.3447,.9717],[.276,.3667,.9829],[.2699,.3892,.9906],[.2602,.4123,.9952],[.244,.4358,.9988],[.2206,.4603,.9973],[.1963,.4847,.9892],[.1834,.5074,.9798],[.1786,.5289,.9682],[.1764,.5499,.952],[.1687,.5703,.9359],[.154,.5902,.9218],[.146,.6091,.9079],[.138,.6276,.8973],[.1248,.6459,.8883],[.1113,.6635,.8763],[.0952,.6798,.8598],[.0689,.6948,.8394],[.0297,.7082,.8163],[.0036,.7203,.7917],[.0067,.7312,.766],[.0433,.7411,.7394],[.0964,.75,.712],[.1408,.7584,.6842],[.1717,.767,.6554],[.1938,.7758,.6251],[.2161,.7843,.5923],[.247,.7918,.5567],[.2906,.7973,.5188],[.3406,.8008,.4789],[.3909,.8029,.4354],[.4456,.8024,.3909],[.5044,.7993,.348],[.5616,.7942,.3045],[.6174,.7876,.2612],[.672,.7793,.2227],[.7242,.7698,.191],[.7738,.7598,.1646],[.8203,.7498,.1535],[.8634,.7406,.1596],[.9035,.733,.1774],[.9393,.7288,.21],[.9728,.7298,.2394],[.9956,.7434,.2371],[.997,.7659,.2199],[.9952,.7893,.2028],[.9892,.8136,.1885],[.9786,.8386,.1766],[.9676,.8639,.1643],[.961,.889,.1537],[.9597,.9135,.1423],[.9628,.9373,.1265],[.9691,.9606,.1064],[.9769,.9839,.0805]];
const years=[];for(let y=1350;y<=1403;y++)years.push(y);
const periodTicks=cyclePeriods.map(p=>1/p);
const rowStep=(periodTicks[0]-periodTicks[48])/48;
const rowFreq=cyclePeriods.map((p,i)=>periodTicks[0]-i*rowStep);
const yRange=[periodTicks[48]-rowStep/2,periodTicks[0]+rowStep/2];
const yText=periodLabels.map(s=>s?s+" years":"");
function stepped(cols){const n=cols.length,o=[];cols.forEach((c,i)=>{o.push([i/n,c],[(i+1)/n,c]);});return o;}
const parula=stepped(parulaMap.map(c=>`rgb(${c.map(v=>Math.round(v*255)).join(",")})`));
const hsvBands=[];for(let k=0;k<64;k++){hsvBands.push(`hsl(${k*5.625},100%,50%)`);}
const hsv=stepped(hsvBands);
const FONT="Liberation Sans",INK="#262626";
// The window may open shorter than the chart's 6252 px: fit the whole figure to its height.
const fitY=Math.min(1,window.innerHeight/6252);
document.getElementById("fit").style.transform=`scale(1,${fitY})`;
document.body.style.height=(6252*fitY)+"px";
function axisX(){return {range:[1349.5,1403.5],tickmode:"array",tickvals:years,ticktext:years.map(String),tickangle:-90,ticks:"inside",ticklen:20,tickwidth:2.5,tickcolor:INK,showline:true,linewidth:3,linecolor:INK,mirror:"allticks",showgrid:false,zeroline:false,tickfont:{family:FONT,size:56,color:INK},ticklabelstandoff:6,title:{text:"Time (Years)",font:{family:FONT,size:64,color:INK},standoff:36}};}
function axisY(){return {range:yRange,tickmode:"array",tickvals:periodTicks,ticktext:yText,ticks:"inside",ticklen:20,tickwidth:2.5,tickcolor:INK,showline:true,linewidth:3,linecolor:INK,mirror:"allticks",showgrid:false,zeroline:false,tickfont:{family:FONT,size:56,color:INK},ticklabelstandoff:6,title:{text:"Cycle Periods in Years (T=1/Freq)",font:{family:FONT,size:64,color:INK},standoff:24}};}
function cbar(ticks,text){return {x:1.0362,xanchor:"left",xpad:0,y:0,yanchor:"bottom",ypad:0,len:1,thickness:117,thicknessmode:"pixels",outlinewidth:3,outlinecolor:INK,ticks:"inside",ticklen:20,tickwidth:2,tickcolor:INK,tickmode:"array",tickvals:ticks,ticktext:text.map(s=>"\u00a0"+s),tickfont:{family:FONT,size:50,color:INK}};}
const coi={type:"scatter",mode:"lines",x:coiYear,y:coiFreq,line:{color:"#fff",width:9,dash:"32px,30px"},hoverinfo:"skip",showlegend:false};
const coherenceTicks=[0,.1,.2,.3,.4,.5,.6,.7,.8,.9,1];
const phaseTicks=[-3,-2,-1,0,1,2,3];
const phaseTickText=["\u22123","\u22122","\u22121","0","1","2","3"];
Plotly.newPlot("a",[{type:"heatmap",x:years,y:rowFreq,z:coherence,zmin:0,zmax:1,colorscale:parula,colorbar:cbar(coherenceTicks,coherenceTicks.map(String))},coi],{
 width:3125,height:3126,margin:{l:426,r:602,t:469,b:523,autoexpand:false},paper_bgcolor:"#fff",plot_bgcolor:"#fff",showlegend:false,
 title:{text:"Wavelet Coherence Analysis<br>Magnitude-Squared (R^2) (0 to 1)<br>Time Series: TAX-IMPORT to GDP x TAX-GOV-INCOME to GDP<br>1350-1403 (54 years) - Annually, Ref#: 34 & 36",font:{family:FONT,size:64,color:"#000",weight:"bold"},x:.5,xref:"paper",xanchor:"center",y:1-202/3126,yref:"container",yanchor:"top"},
 xaxis:axisX(),yaxis:axisY()},{displayModeBar:false,responsive:false});
Plotly.newPlot("b",[{type:"heatmap",x:years,y:rowFreq,z:phaseAngle,zmin:-Math.PI,zmax:Math.PI,colorscale:hsv,colorbar:cbar(phaseTicks,phaseTickText)},coi],{
 width:3125,height:3126,margin:{l:426,r:602,t:305,b:687,autoexpand:false},paper_bgcolor:"#fff",plot_bgcolor:"#fff",showlegend:false,
 title:{text:"Phase Angle of Smoothed Wavelet Cross-Spectrum Coefficients (-<i>π</i> to <i>π</i>)<br>Time Series: TAX-IMPORT to GDP x TAX-GOV-INCOME to GDP<br>1350-1403 (54 years) - Annually, Ref#: 34 & 36",font:{family:FONT,size:64,color:"#000",weight:"bold"},x:.5,xref:"paper",xanchor:"center",y:1-119/3126,yref:"container",yanchor:"top"},
 xaxis:axisX(),yaxis:axisY()},{displayModeBar:false,responsive:false});
</script></body></html>
